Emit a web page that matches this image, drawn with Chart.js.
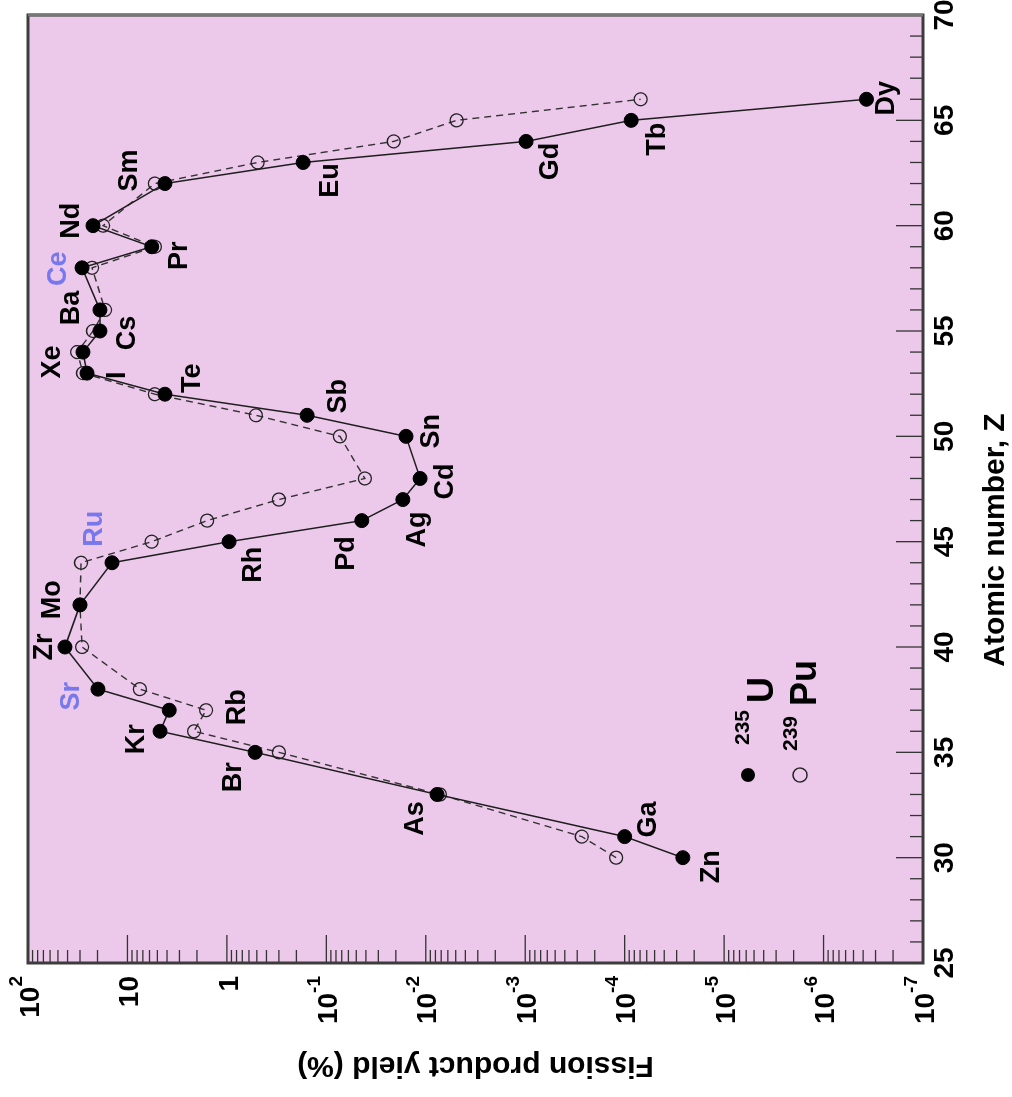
<!DOCTYPE html>
<html>
<head>
<meta charset="utf-8">
<title>Fission product yield</title>
<script src="https://cdn.jsdelivr.net/npm/chart.js@4.4.1/dist/chart.umd.min.js"></script>
<style>
  html, body { margin: 0; padding: 0; background: #fff; overflow: hidden; }
  #wrap { position: relative; width: 1012px; height: 1097px; }
  /* chart is drawn upright, then turned a quarter turn like the original figure */
  #myChart { position: absolute; left: 0; top: 0; transform-origin: 0 0; transform: translateY(1097px) rotate(-90deg); }
</style>
</head>
<body>
<div id="wrap"><canvas id="myChart" width="1097" height="1012"></canvas></div>
<script>
// atomic numbers and element names
var zValues = [30, 31, 33, 35, 36, 37, 38, 40, 42, 44, 45, 46, 47, 48, 50, 51, 52, 53, 54, 55, 56, 58, 59, 60, 62, 63, 64, 65, 66];
var elements = ["Zn", "Ga", "As", "Br", "Kr", "Rb", "Sr", "Zr", "Mo", "Ru", "Rh", "Pd", "Ag", "Cd", "Sn", "Sb", "Te", "I", "Xe", "Cs", "Ba", "Ce", "Pr", "Nd", "Sm", "Eu", "Gd", "Tb", "Dy"];

// fission product yield (%)
var yieldU235 = [2.6e-5, 1.0e-4, 7.7e-3, 0.52, 4.7, 3.8, 19.8, 42.5, 30, 14.3, 0.95, 0.044, 0.017, 0.0114, 0.0158, 0.156, 4.2, 25.5, 28, 18.9, 18.9, 28.6, 5.7, 22.2, 4.2, 0.171, 9.8e-4, 8.6e-5, 3.7e-7];
var yieldPu239 = [1.22e-4, 2.7e-4, 7.2e-3, 0.30, 2.14, 1.62, 7.5, 28.6, 30, 29.3, 5.7, 1.58, 0.30, 0.041, 0.073, 0.51, 5.3, 28, 32, 22.2, 16.8, 22.7, 5.3, 17.6, 5.3, 0.49, 0.021, 4.9e-3, 6.9e-5];

// axis ticks
var zTicks = [25, 30, 35, 40, 45, 50, 55, 60, 65, 70];
var yieldExponents = [2, 1, 0, -1, -2, -3, -4, -5, -6, -7];

var blueLabels = ["Sr", "Ru", "Ce"];

// label offsets from the point, [along Z, along yield] in px
var labelOffsets = {
  Zn: [-9, 29], Ga: [17, 24], As: [-24, -22], Br: [-25, -22], Kr: [-8, -24],
  Rb: [3, 68], Sr: [-7, -26], Zr: [0, -20], Mo: [5, -27], Ru: [34, -17],
  Rh: [-23, 24], Pd: [-33, -15], Ag: [-30, 15], Cd: [-3, 25], Sn: [5, 26],
  Sb: [19, 31], Te: [16, 28], I: [-2, 31], Xe: [-10, -30], Cs: [-2, 28],
  Ba: [2, -28], Ce: [-1, -24], Pr: [-9, 28], Nd: [5, -21], Sm: [13, -35],
  Eu: [-18, 27], Gd: [-20, 24], Tb: [-19, 26], Dy: [1, 20]
};

var font = "'Liberation Sans', Arial, sans-serif";

function points(ys) {
  return zValues.map(function(z, i) { return { x: z, y: ys[i] }; });
}

// base text with a raised exponent, right aligned at x
function drawSup(ctx, base, sup, x, y, baseSize, supSize) {
  ctx.textBaseline = "middle";
  ctx.textAlign = "left";
  ctx.font = "bold " + baseSize + "px " + font;
  var wb = ctx.measureText(base).width;
  ctx.font = "bold " + supSize + "px " + font;
  var ws = sup ? ctx.measureText(sup).width : 0;
  var start = x - wb - ws;
  ctx.font = "bold " + baseSize + "px " + font;
  ctx.fillText(base, start, y);
  if (sup) {
    ctx.font = "bold " + supSize + "px " + font;
    ctx.fillText(sup, start + wb, y - baseSize * 0.52);
  }
}

var framePlugin = {
  id: "frame",
  beforeDatasetsDraw: function(chart) {
    var ctx = chart.ctx, a = chart.chartArea;
    var xs = chart.scales.x, ys = chart.scales.y;
    ctx.save();
    ctx.fillStyle = "#ecc9ea";
    ctx.fillRect(a.left, a.top, a.right - a.left, a.bottom - a.top);

    // inside ticks on the yield axis
    ctx.strokeStyle = "#333";
    ctx.lineWidth = 1.3;
    for (var e = -7; e <= 2; e++) {
      for (var m = 1; m <= 9; m++) {
        if (m > 1 && e == 2) continue;
        var py = ys.getPixelForValue(m * Math.pow(10, e));
        var len = m == 1 ? 28 : 13;
        ctx.beginPath();
        ctx.moveTo(a.left, py);
        ctx.lineTo(a.left + len, py);
        ctx.stroke();
      }
    }
    // inside ticks on the Z axis
    for (var z = 25; z <= 70; z++) {
      var px = xs.getPixelForValue(z);
      var l = z % 5 == 0 ? 27 : 13;
      ctx.beginPath();
      ctx.moveTo(px, a.bottom);
      ctx.lineTo(px, a.bottom - l);
      ctx.stroke();
    }
    ctx.restore();
  },
  afterDatasetsDraw: function(chart) {
    var ctx = chart.ctx, a = chart.chartArea;
    var xs = chart.scales.x, ys = chart.scales.y;
    ctx.save();

    // frame
    ctx.strokeStyle = "#3c3c3c";
    ctx.lineWidth = 3;
    ctx.strokeRect(a.left, a.top, a.right - a.left, a.bottom - a.top);
    ctx.strokeStyle = "#777";
    ctx.beginPath();
    ctx.moveTo(a.right, a.top);
    ctx.lineTo(a.right, a.bottom);
    ctx.stroke();

    // element labels
    ctx.textAlign = "center";
    ctx.textBaseline = "middle";
    ctx.font = "bold 27px " + font;
    zValues.forEach(function(z, i) {
      var name = elements[i];
      var off = labelOffsets[name];
      var px = xs.getPixelForValue(z);
      var py = ys.getPixelForValue(yieldU235[i]);
      ctx.fillStyle = blueLabels.indexOf(name) >= 0 ? "#7777ee" : "#000";
      ctx.fillText(name, px + off[0], py + off[1]);
    });

    // Z tick labels
    ctx.fillStyle = "#000";
    ctx.font = "bold 28px " + font;
    ctx.textAlign = "center";
    zTicks.forEach(function(z) {
      ctx.fillText(String(z), xs.getPixelForValue(z), a.bottom + 22);
    });

    // yield tick labels
    yieldExponents.forEach(function(e) {
      var py = ys.getPixelForValue(Math.pow(10, e)) + 3;
      if (e == 0) drawSup(ctx, "1", "", a.left - 13, py, 28, 19);
      else if (e == 1) drawSup(ctx, "10", "", a.left - 13, py, 28, 19);
      else drawSup(ctx, "10", String(e), a.left - 13, py, 28, 19);
    });

    // axis titles
    ctx.textAlign = "center";
    ctx.textBaseline = "middle";
    ctx.font = "bold 30px " + font;
    ctx.fillText("Atomic number, Z", 557, a.bottom + 73);
    ctx.save();
    ctx.translate(32, (a.top + a.bottom) / 2);
    ctx.rotate(-Math.PI / 2);
    ctx.fillText("Fission product yield (%)", 0, 0);
    ctx.restore();

    // legend
    ctx.fillStyle = "#000";
    ctx.beginPath();
    ctx.arc(322, 748, 7, 0, Math.PI * 2);
    ctx.fill();
    ctx.strokeStyle = "#222";
    ctx.lineWidth = 1.4;
    ctx.beginPath();
    ctx.arc(322, 800, 7, 0, Math.PI * 2);
    ctx.stroke();
    ctx.textAlign = "left";
    ctx.font = "bold 21px " + font;
    ctx.fillText("235", 352, 743);
    ctx.fillText("239", 346, 791);
    ctx.font = "bold 36px " + font;
    ctx.fillText("U", 394, 763);
    ctx.fillText("Pu", 391, 806);
    ctx.restore();
  }
};

var ctx1 = document.getElementById("myChart").getContext("2d");

var data1 = {
  datasets: [
    {
      label: "235U",
      data: points(yieldU235),
      borderColor: "#1e1e1e",
      borderWidth: 1.5,
      pointRadius: 7,
      pointBackgroundColor: "#000",
      pointBorderColor: "#000",
      pointBorderWidth: 1,
      tension: 0,
      fill: false
    },
    {
      label: "239Pu",
      data: points(yieldPu239),
      borderColor: "#333",
      borderWidth: 1.4,
      borderDash: [7, 5],
      pointRadius: 6.5,
      pointBackgroundColor: "rgba(0,0,0,0)",
      pointBorderColor: "#222",
      pointBorderWidth: 1.3,
      tension: 0,
      fill: false
    }
  ]
};

//options
var options = {
  responsive: false,
  animation: false,
  layout: { padding: { left: 134, right: 15, top: 28, bottom: 89 } },
  plugins: {
    legend: { display: false },
    tooltip: { enabled: false }
  },
  scales: {
    x: { type: "linear", min: 25, max: 70, display: false },
    y: { type: "logarithmic", min: 1e-7, max: 100, display: false }
  }
};

var chart1 = new Chart(ctx1, {
  type: "line",
  data: data1,
  options: options,
  plugins: [framePlugin]
});
</script>
</body>
</html>
